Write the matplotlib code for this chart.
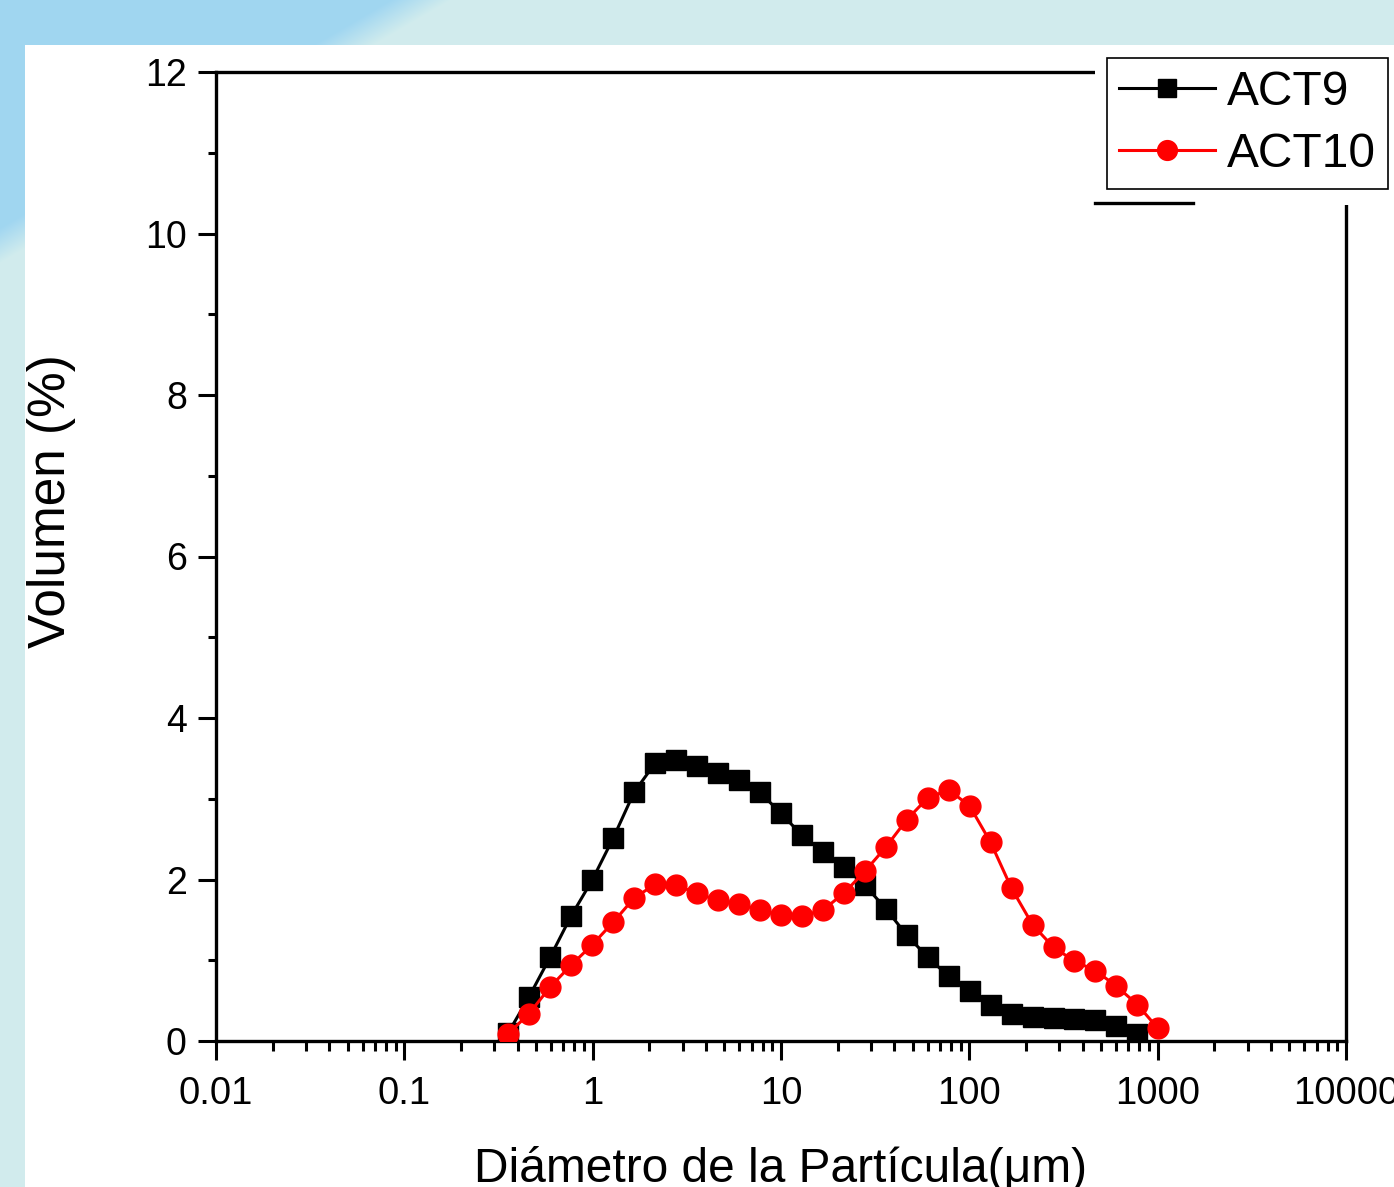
import numpy as np
import matplotlib
matplotlib.use("Agg")
import matplotlib.pyplot as plt
from matplotlib.patches import Rectangle
from matplotlib.lines import Line2D
from matplotlib.ticker import LogLocator, MultipleLocator, NullFormatter

# particle size classes (um)
diam = [0.356, 0.460, 0.595, 0.769, 0.993, 1.284, 1.659, 2.144, 2.770, 3.580,
        4.627, 5.979, 7.727, 9.985, 12.90, 16.67, 21.55, 27.85, 35.99, 46.51,
        60.10, 77.67, 100.4, 129.7, 167.6, 216.6, 279.9, 361.7, 467.5, 604.1,
        780.7, 1000.0]

# volume (%) per class
act9 = [0.10, 0.55, 1.04, 1.55, 1.99, 2.51, 3.08, 3.44, 3.48, 3.40,
        3.32, 3.23, 3.08, 2.82, 2.55, 2.34, 2.16, 1.93, 1.64, 1.31,
        1.04, 0.80, 0.62, 0.45, 0.34, 0.30, 0.28, 0.27, 0.26, 0.19,
        0.09]
act10 = [0.09, 0.34, 0.67, 0.94, 1.19, 1.47, 1.77, 1.94, 1.93, 1.83,
         1.74, 1.70, 1.62, 1.56, 1.55, 1.62, 1.83, 2.10, 2.40, 2.74,
         3.01, 3.11, 2.91, 2.46, 1.89, 1.44, 1.16, 0.99, 0.87, 0.68,
         0.45, 0.16]

xticks = [0.01, 0.1, 1, 10, 100, 1000, 10000]
xticklabels = ["0.01", "0.1", "1", "10", "100", "1000", "10000"]
yticks = [0, 2, 4, 6, 8, 10, 12]

plt.rcParams['font.family'] = ['Liberation Sans', 'DejaVu Sans']

W, H = 1394, 1187
fig = plt.figure(figsize=(W / 100.0, H / 100.0), dpi=100)

# slide background behind the pasted chart
yy, xx = np.mgrid[0:H, 0:W]
t = np.clip((xx + 1.714 * yy - 390) / 60.0, 0, 1)[..., None]
blue = np.array([0.63, 0.84, 0.945])
cyan = np.array([0.82, 0.925, 0.93])
fig.figimage(blue * (1 - t) + cyan * t, xo=0, yo=0, zorder=-5)
fig.add_artist(Rectangle((25.0 / W, 0), 1, 1 - 45.0 / H, transform=fig.transFigure,
                         facecolor='white', edgecolor='none', zorder=-1))

ax = fig.add_axes([216.0 / W, 1 - 1041.0 / H, 1130.0 / W, 969.0 / H])
ax.set_facecolor('white')

l9, = ax.plot(diam[:len(act9)], act9, color='black', lw=2.2, marker='s',
              markersize=14, label='ACT9', zorder=3)
l10, = ax.plot(diam, act10, color='#ff0000', lw=2.2, marker='o',
               markersize=15, label='ACT10', zorder=4)

ax.set_xscale('log')
ax.set_xlim(0.01, 10000)
ax.set_ylim(0, 12)
ax.set_xticks(xticks)
ax.set_xticklabels(xticklabels)
ax.xaxis.set_minor_locator(LogLocator(base=10, subs=range(2, 10), numticks=20))
ax.xaxis.set_minor_formatter(NullFormatter())
ax.set_yticks(yticks)
ax.yaxis.set_minor_locator(MultipleLocator(1))

ax.tick_params(axis='x', which='major', direction='out', length=14, width=2.2,
               labelsize=27.5, pad=11)
ax.tick_params(axis='x', which='minor', direction='out', length=7, width=2.2)
ax.tick_params(axis='y', which='major', direction='out', length=13, width=2.2,
               labelsize=27, pad=8)
ax.tick_params(axis='y', which='minor', direction='out', length=6, width=2.2)
for s in ax.spines.values():
    s.set_linewidth(2.4)

ax.set_xlabel("Diámetro de la Partícula(μm)", fontsize=34.5)
ax.set_ylabel("Volumen (%)", fontsize=37)
ax.xaxis.set_label_coords(0.5, -0.108)
ax.yaxis.set_label_coords(-0.124, 0.557)

# legend pasted over the top right corner
fig.add_artist(Rectangle((1095.0 / W, 1 - 205.0 / H), 1, 160.0 / H,
                         transform=fig.transFigure, facecolor='white',
                         edgecolor='none', zorder=1))
fig.add_artist(Line2D([1095.0 / W, 1193.0 / W], [1 - 203.0 / H, 1 - 203.0 / H],
                      transform=fig.transFigure, color='black', lw=2.4, zorder=2))
leg = fig.legend(handles=[l9, l10], loc='upper right',
                 bbox_to_anchor=(1388.0 / W, 1 - 58.0 / H),
                 bbox_transform=fig.transFigure, fontsize=34.5, fancybox=False,
                 framealpha=1, edgecolor='black', borderpad=0.25,
                 labelspacing=0.36, handlelength=2.0, handletextpad=0.25,
                 borderaxespad=0, markerscale=0.95)
leg.get_frame().set_linewidth(1.2)
leg.set_zorder(5)

fig.savefig("out.png", dpi=100)
